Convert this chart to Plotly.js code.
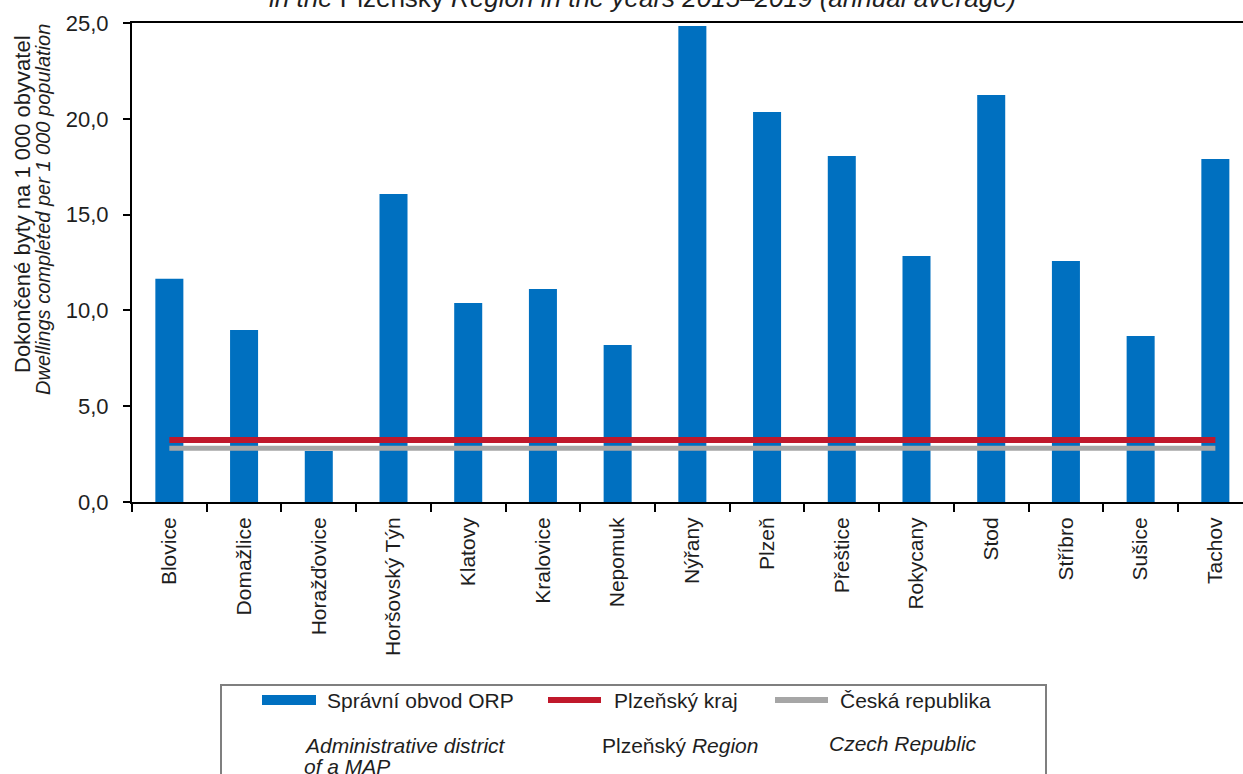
<!DOCTYPE html>
<html>
<head>
<meta charset="utf-8">
<script src="https://cdn.plot.ly/plotly-3.0.1.min.js"></script>
<style>html,body{margin:0;padding:0;background:#fff;}#chart{width:1243px;height:774px;}</style>
</head>
<body>
<div id="chart"></div>
<script>
// ---- data ----
const districts = ["Blovice","Domažlice","Horažďovice","Horšovský Týn","Klatovy","Kralovice","Nepomuk","Nýřany","Plzeň","Přeštice","Rokycany","Stod","Stříbro","Sušice","Tachov"];
const orpValues = [11.65, 8.98, 2.66, 16.07, 10.39, 11.12, 8.19, 24.84, 20.35, 18.06, 12.84, 21.24, 12.58, 8.66, 17.9];
const plzenskyKraj = [3.24, 3.24, 3.24, 3.24, 3.24, 3.24, 3.24, 3.24, 3.24, 3.24, 3.24, 3.24, 3.24, 3.24, 3.24];
const ceskaRepublika = [2.8, 2.8, 2.8, 2.8, 2.8, 2.8, 2.8, 2.8, 2.8, 2.8, 2.8, 2.8, 2.8, 2.8, 2.8];
const yTickVals = [0, 5, 10, 15, 20, 25];
const seriesNamesCz = ["Správní obvod ORP", "Plzeňský kraj", "Česká republika"];

// ---- layout helpers (pixel -> paper) ----
const L = 132, T = 23, PW = 1111, PH = 479;
const px = x => (x - L) / PW;
const py = y => (T + PH - y) / PH;

const FONT = "Liberation Sans, Arial, sans-serif";
const TXT = "#1e1e1e";
const BLUE = "#0070C0", RED = "#C0182B", GREY = "#A6A6A6";

const traces = [
  {type: "bar", x: districts, y: orpValues, name: seriesNamesCz[0],
   marker: {color: BLUE, line: {width: 0}}, hoverinfo: "x+y"},
  {type: "scatter", mode: "lines", x: districts, y: plzenskyKraj, name: seriesNamesCz[1],
   line: {color: RED, width: 6}},
  {type: "scatter", mode: "lines", x: districts, y: ceskaRepublika, name: seriesNamesCz[2],
   line: {color: GREY, width: 5}}
];

function ann(text, x, y, opts) {
  return Object.assign({text: text, x: px(x), y: py(y), xref: "paper", yref: "paper",
    showarrow: false, xanchor: "left", yanchor: "middle",
    font: {family: FONT, size: 21, color: TXT}}, opts || {});
}

const annotations = [
  ann("<i>in the </i>Plzeňský<i> Region in the years 2015–2019 (annual average)</i>", 642, -2,
      {xanchor: "center", font: {family: FONT, size: 26, color: TXT}}),
  ann("Dokončené byty na 1 000 obyvatel", 22, 204,
      {xanchor: "center", textangle: -90, font: {family: FONT, size: 22, color: TXT}}),
  ann("<i>Dwellings completed per 1 000 population</i>", 43, 210,
      {xanchor: "center", textangle: -90, font: {family: FONT, size: 20, color: TXT}}),
  ann(seriesNamesCz[0], 325, 700),
  ann(seriesNamesCz[1], 612, 700),
  ann(seriesNamesCz[2], 838, 700),
  ann("<i>Administrative district</i>", 302, 745),
  ann("<i>of a MAP</i>", 302, 766),
  ann("Plzeňský <i>Region</i>", 600, 745),
  ann("<i>Czech Republic</i>", 827, 743)
];

const shapes = [
  {type: "rect", xref: "paper", yref: "paper", x0: px(221), x1: px(1046), y0: py(685), y1: py(800),
   line: {color: "#7f7f7f", width: 2}, fillcolor: "rgba(0,0,0,0)"},
  {type: "rect", xref: "paper", yref: "paper", x0: px(262), x1: px(316), y0: py(695), y1: py(705),
   line: {width: 0}, fillcolor: BLUE},
  {type: "line", xref: "paper", yref: "paper", x0: px(548), x1: px(601), y0: py(700), y1: py(700),
   line: {color: RED, width: 6}},
  {type: "line", xref: "paper", yref: "paper", x0: px(775), x1: px(828), y0: py(700), y1: py(700),
   line: {color: GREY, width: 6}}
];

const layout = {
  width: 1243, height: 774,
  margin: {l: L, r: 0, t: T, b: 774 - T - PH, pad: 0},
  paper_bgcolor: "#fff", plot_bgcolor: "#fff",
  showlegend: false,
  bargap: 0.625,
  separators: ", ",
  font: {family: FONT, size: 20, color: TXT},
  xaxis: {
    type: "category", range: [-0.5, 14.37],
    showline: true, linecolor: "#000", linewidth: 2, mirror: true,
    ticks: "outside", tickson: "boundaries", ticklen: 8, tickwidth: 2, tickcolor: "#000",
    ticklabelstandoff: 5,
    tickangle: -90, tickfont: {family: FONT, size: 21, color: TXT},
    showgrid: false, zeroline: false, fixedrange: true
  },
  yaxis: {
    range: [0, 25], tickvals: yTickVals, tickformat: ".1f",
    showline: true, linecolor: "#000", linewidth: 2,
    ticks: "outside", ticklen: 7, tickwidth: 2, tickcolor: "#000",
    ticklabelstandoff: 10,
    tickfont: {family: FONT, size: 22, color: TXT},
    showgrid: false, zeroline: false, fixedrange: true
  },
  annotations: annotations,
  shapes: shapes
};

Plotly.newPlot("chart", traces, layout, {displayModeBar: false, staticPlot: true});
</script>
</body>
</html>
